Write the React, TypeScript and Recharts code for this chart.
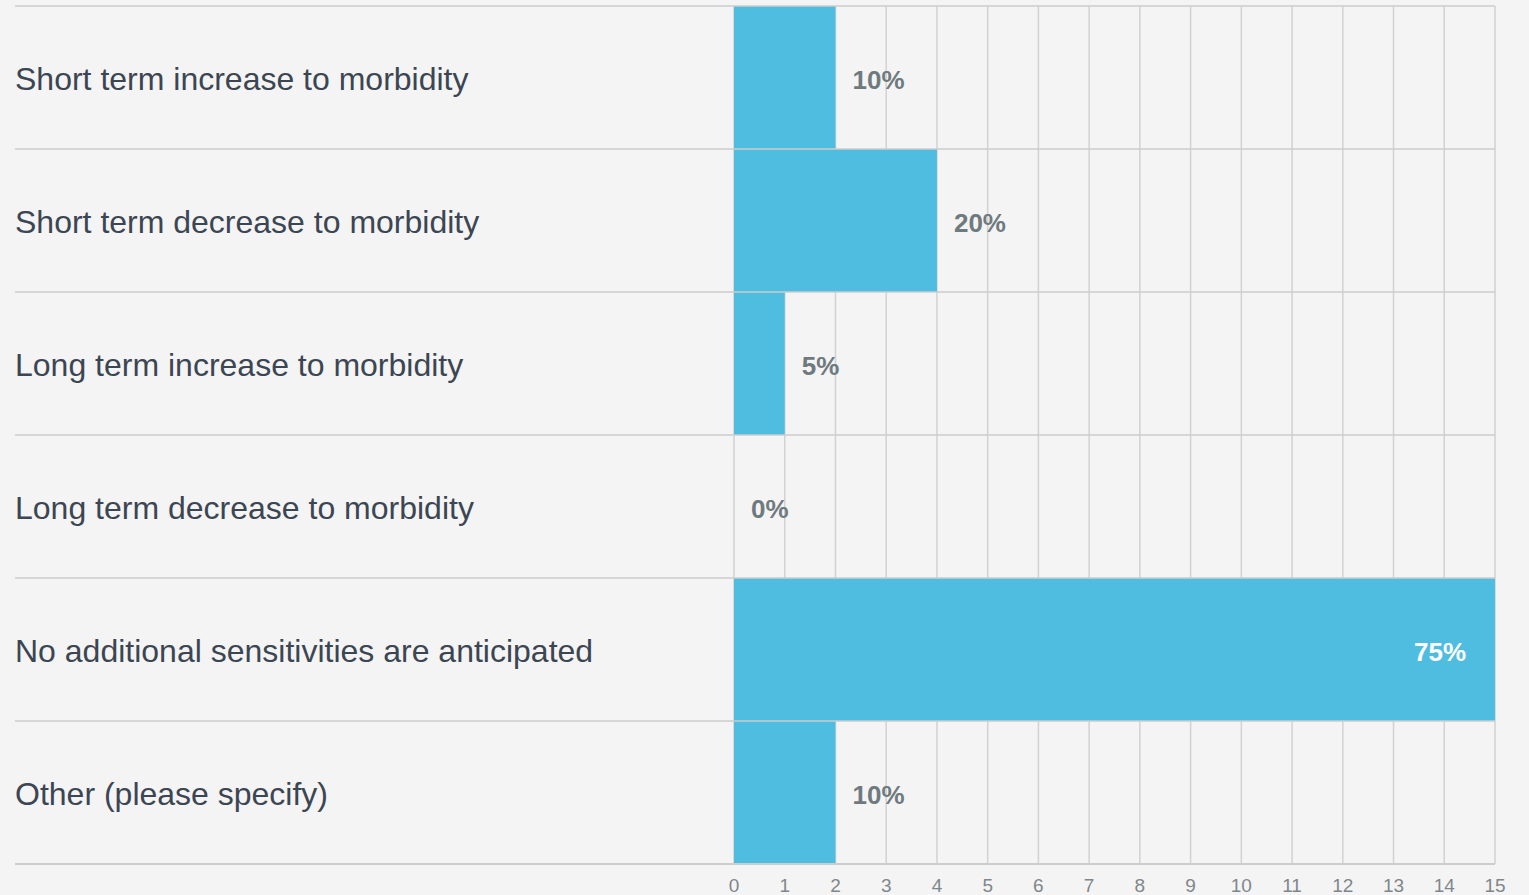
import React from 'react';
import { Bar, BarChart, CartesianGrid, LabelList, XAxis, YAxis } from 'recharts';

// answer options and how many respondents picked each one
const options = [
  'Short term increase to morbidity',
  'Short term decrease to morbidity',
  'Long term increase to morbidity',
  'Long term decrease to morbidity',
  'No additional sensitivities are anticipated',
  'Other (please specify)',
];
const responses = [2, 4, 1, 0, 15, 2];
const respondents = 20;
const countTicks = [0, 1, 2, 3, 4, 5, 6, 7, 8, 9, 10, 11, 12, 13, 14, 15];

const data = options.map((name, i) => ({
  name,
  count: responses[i],
  pct: Math.round((responses[i] / respondents) * 100),
}));
const topPct = Math.max(...data.map((d) => d.pct));

const W = 1529;
const H = 895;
const MARGIN = { top: 6, right: 34, bottom: 0, left: 15 };
const AXIS_W = 719;
const XAXIS_H = 31;
const ROW_H = (H - MARGIN.top - MARGIN.bottom - XAXIS_H) / options.length;
const BAR_BLUE = '#4fbde0';
const RULE = '#cdcdcd';
const FONT = '"Liberation Sans", Arial, sans-serif';

const OptionTick = (props: any) => {
  const { y, payload, index } = props;
  const left = MARGIN.left;
  const right = W - MARGIN.right;
  return (
    <g>
      <line x1={left} x2={right} y1={y - ROW_H / 2} y2={y - ROW_H / 2} stroke={RULE} strokeWidth={1.5} />
      {index === options.length - 1 && (
        <line x1={left} x2={right} y1={y + ROW_H / 2} y2={y + ROW_H / 2} stroke={RULE} strokeWidth={2} />
      )}
      <text x={left} y={y + 1} dy="0.35em" textAnchor="start" fontFamily={FONT} fontSize={32} fill="#3c4652">
        {payload.value}
      </text>
    </g>
  );
};

const CountTick = (props: any) => {
  const { x, payload } = props;
  return (
    <text
      x={x}
      y={H - 3}
      textAnchor="middle"
      fontFamily='"Liberation Sans Narrow", "Arial Narrow", sans-serif'
      fontSize={19}
      fill="#80878b"
    >
      {payload.value}
    </text>
  );
};

const PctLabel = (props: any) => {
  const { x, y, width, height, value } = props;
  const full = value === topPct;
  return (
    <text
      x={full ? x + width - 29 : x + width + 17}
      y={y + height / 2 + 2}
      dy="0.35em"
      textAnchor={full ? 'end' : 'start'}
      fontFamily={FONT}
      fontWeight="bold"
      fontSize={26}
      fill={full ? '#ffffff' : '#6f7a7e'}
    >
      {value}%
    </text>
  );
};

export default function App() {
  return (
    <div style={{ position: 'absolute', left: 0, top: 0, width: W, height: H, background: '#f4f4f4' }}>
      <BarChart width={W} height={H} data={data} layout="vertical" margin={MARGIN} barCategoryGap={0}>
        <CartesianGrid horizontal={false} stroke="#d2d2d2" strokeWidth={1.5} />
        <XAxis
          type="number"
          dataKey="count"
          domain={[0, 15]}
          ticks={countTicks}
          interval={0}
          axisLine={false}
          tickLine={false}
          height={XAXIS_H}
          tick={<CountTick />}
        />
        <YAxis
          type="category"
          dataKey="name"
          width={AXIS_W}
          axisLine={false}
          tickLine={false}
          interval={0}
          tick={<OptionTick />}
        />
        {/* tiny minPointSize keeps the empty row so its 0% label still gets drawn */}
        <Bar dataKey="count" fill={BAR_BLUE} minPointSize={0.01} isAnimationActive={false}>
          <LabelList dataKey="pct" content={<PctLabel />} />
        </Bar>
      </BarChart>
    </div>
  );
}
